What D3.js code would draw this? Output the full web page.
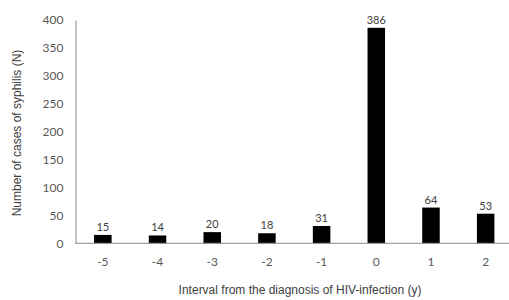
<!DOCTYPE html>
<html>
<head>
<meta charset="utf-8">
<script src="https://cdn.jsdelivr.net/npm/d3@7"></script>
<style>
  body { margin: 0; background: #fff; }
  svg { display: block; }
</style>
</head>
<body>
<svg id="chart"></svg>
<script>
var w = 509,
    h = 300;

var years = ["-5", "-4", "-3", "-2", "-1", "0", "1", "2"];
var cases = [15, 14, 20, 18, 31, 386, 64, 53];
var yTicks = [0, 50, 100, 150, 200, 250, 300, 350, 400];

// plot edges (note: "top" is taken by window.top)
var plotLeft = 75.5, plotRight = 513, plotTop = 20, plotBottom = 243.3;
var numFont = "Lato, 'Open Sans', sans-serif";
var titleFont = "'Liberation Sans', Arial, sans-serif";

var svg = d3.select("#chart")
  .attr("width", w)
  .attr("height", h);

var x = d3.scaleBand()
  .domain(years)
  .range([plotLeft, plotRight])
  .paddingInner(0.68)
  .paddingOuter(0.34);

var y = d3.scaleLinear()
  .domain([0, 400])
  .range([plotBottom, plotTop]);

// y axis
var yAxis = svg.append("g")
  .attr("transform", "translate(" + plotLeft + ",0)")
  .call(d3.axisLeft(y).tickValues(yTicks).tickSize(0).tickPadding(12));
yAxis.select(".domain").attr("stroke", "#8c8c8c");
yAxis.selectAll("text")
  .attr("fill", "#595959")
  .style("font-family", numFont)
  .style("font-size", "12px");

// bars
svg.append("g").selectAll("rect")
  .data(cases)
  .enter().append("rect")
  .attr("x", function(d, i) { return x(years[i]); })
  .attr("y", function(d) { return y(d); })
  .attr("width", x.bandwidth())
  .attr("height", function(d) { return plotBottom - y(d); })
  .attr("fill", "#000");

// value labels
svg.append("g").selectAll("text")
  .data(cases)
  .enter().append("text")
  .attr("x", function(d, i) { return x(years[i]) + x.bandwidth() / 2; })
  .attr("y", function(d) { return y(d) - 4; })
  .attr("text-anchor", "middle")
  .attr("fill", "#404040")
  .style("font-family", numFont)
  .style("font-size", "11px")
  .text(function(d) { return d; });

// x axis
var xAxis = svg.append("g")
  .attr("transform", "translate(0," + plotBottom + ")")
  .call(d3.axisBottom(x).tickSize(0).tickPadding(14));
xAxis.select(".domain").attr("stroke", "#8c8c8c").attr("d", "M" + plotLeft + ",0H" + w);
xAxis.selectAll("text")
  .attr("fill", "#595959")
  .style("font-family", numFont)
  .style("font-size", "12px");

// titles
svg.append("text")
  .attr("x", 300)
  .attr("y", 294)
  .attr("text-anchor", "middle")
  .attr("fill", "#404040")
  .style("font-family", titleFont)
  .style("font-size", "12px")
  .text("Interval from the diagnosis of HIV-infection (y)");

svg.append("text")
  .attr("transform", "translate(21,133)rotate(-90)")
  .attr("text-anchor", "middle")
  .attr("fill", "#404040")
  .style("font-family", titleFont)
  .style("font-size", "12px")
  .text("Number of cases of syphilis (N)");
</script>
</body>
</html>
